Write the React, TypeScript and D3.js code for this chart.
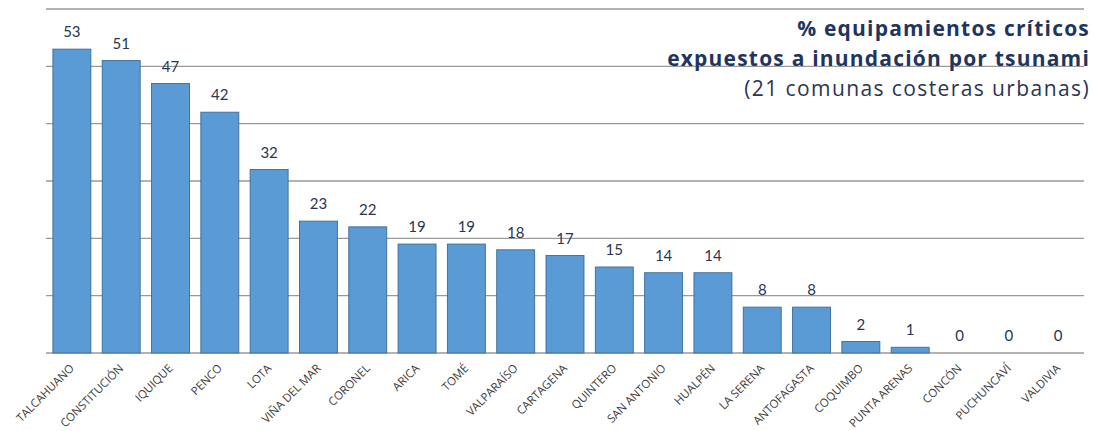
import React from "react";
import * as d3 from "d3";

const communes = ["TALCAHUANO","CONSTITUCIÓN","IQUIQUE","PENCO","LOTA","VIÑA DEL MAR","CORONEL","ARICA","TOMÉ","VALPARAÍSO","CARTAGENA","QUINTERO","SAN ANTONIO","HUALPÉN","LA SERENA","ANTOFAGASTA","COQUIMBO","PUNTA ARENAS","CONCÓN","PUCHUNCAVÍ","VALDIVIA"];
const values = [53,51,47,42,32,23,22,19,19,18,17,15,14,14,8,8,2,1,0,0,0];
const gridTicks = [0,10,20,30,40,50,60];
const titleLines = ["% equipamientos críticos","expuestos a inundación por tsunami"];
const subtitle = "(21 comunas costeras urbanas)";

export default function App() {
  const W = 1094, H = 431;
  const left = 46, right = 1084, top = 9, bottom = 353;
  const x = d3.scaleBand<string>().domain(communes).range([left, right]).paddingInner(0.23).paddingOuter(0.14);
  const y = d3.scaleLinear().domain([0, 60]).range([bottom, top]);
  const navy = "#1f3560";
  return (
    <svg width={W} height={H} style={{ position: "absolute", left: 0, top: 0 }}>
      <rect width={W} height={H} fill="#fff" />
      {gridTicks.map((t) => (
        <line key={t} x1={left} x2={right} y1={y(t)} y2={y(t)} stroke="#9a9a9a" strokeWidth={1.4} />
      ))}
      {communes.map((c, i) => {
        const v = values[i];
        const bx = x(c)!;
        const bw = x.bandwidth();
        return (
          <g key={c}>
            {v > 0 && (
              <rect x={bx} y={y(v)} width={bw} height={y(0) - y(v)} fill="#5b9bd5" stroke="#3c6a96" strokeWidth={0.9} />
            )}
            <text x={bx + bw / 2} y={y(v) - 12} textAnchor="middle" fontFamily="Lato, 'Open Sans', sans-serif" fontSize={15} fill="#2a3553">{v}</text>
            <text transform={`translate(${bx + bw / 2 + 3},${bottom + 16}) rotate(-45)`} textAnchor="end" fontFamily="'Liberation Sans Narrow', 'Open Sans', sans-serif" fontSize={11.5} fill="#404040">{c}</text>
          </g>
        );
      })}
      {titleLines.map((t, i) => (
        <text key={t} x={1090} y={36 + i * 30} textAnchor="end" fontFamily="'Open Sans', sans-serif" fontWeight={700} fontSize={21} letterSpacing={1.2} fill={navy}>{t}</text>
      ))}
      <text x={1090} y={96} textAnchor="end" fontFamily="'Open Sans', sans-serif" fontSize={21} letterSpacing={1.4} fill="#2a3553">{subtitle}</text>
    </svg>
  );
}
